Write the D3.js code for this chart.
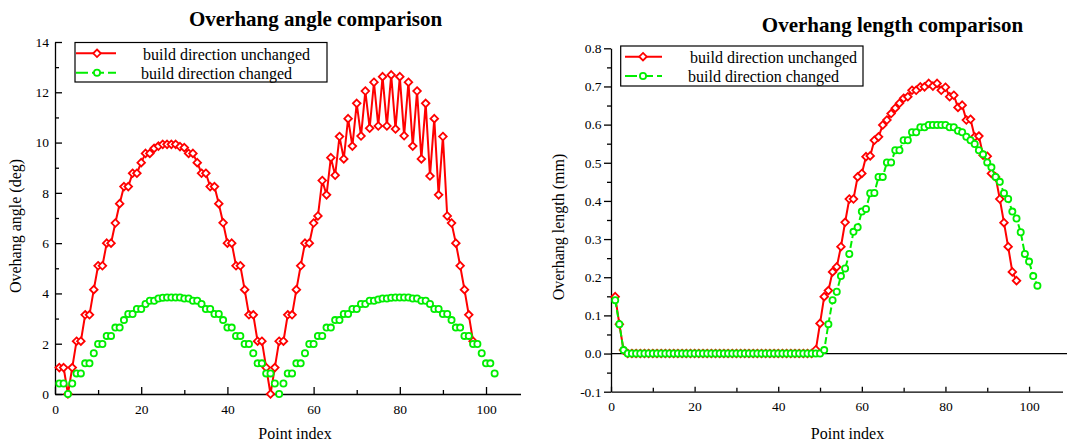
<!DOCTYPE html>
<html lang="en">
<head>
<meta charset="UTF-8">
<title>Overhang comparison</title>
<style>
    body { margin: 0; background: #fff; }
    svg text { font-family: "Liberation Serif", "Times New Roman", serif; fill: #000; }
    .title { font-size: 21px; font-weight: bold; }
    .axis-label { font-size: 16px; }
    .legend-text { font-size: 16px; }
    .axis text { font-size: 13.5px; font-family: "Liberation Serif", "Times New Roman", serif; }
    .axis path, .axis line { stroke: #000; stroke-width: 1.3; }
</style>
</head>
<body>
<svg id="chart" width="1067" height="443"></svg>

<script src="https://d3js.org/d3.v7.min.js"></script>
<script>
// ---- data (point index starts at 1) ----
var angleUnchanged = [1.05, 1.05, 0, 1.05, 2.1, 2.1, 3.15, 3.15, 4.15, 5.1, 5.1, 6.0, 6.0,
    6.8, 7.57, 8.25, 8.25, 8.78, 8.78, 9.2, 9.57, 9.57, 9.77, 9.86, 9.93, 9.93, 9.93, 9.93, 9.84, 9.8,
    9.57, 9.57, 9.2, 8.78, 8.78, 8.25, 8.25, 7.57, 6.81, 6.0, 6.0, 5.1, 5.1, 4.15, 3.15, 3.15, 2.1, 2.1, 1.05, 0,
    1.05, 2.1, 2.1, 3.15, 3.15, 4.15, 5.1, 6.0, 6.0, 6.8, 7.08, 8.49, 7.92, 9.4, 8.7, 10.24, 9.35, 10.95, 9.86, 11.56,
    10.26, 12.05, 10.57, 12.4, 10.66, 12.62, 10.66, 12.69, 10.54, 12.62, 10.27, 12.4, 9.86, 12.05, 9.35, 11.56, 8.67, 10.95, 7.92, 10.24,
    7.08, 6.8, 6.0, 5.1, 4.15, 3.15, 2.1];

var angleChanged = [0.42, 0.42, 0, 0.42, 0.82, 0.82, 1.22, 1.22, 1.62, 1.99, 1.99, 2.31, 2.31, 2.64, 2.64, 2.94,
    3.18, 3.18, 3.38, 3.38, 3.58, 3.71, 3.71, 3.8, 3.83, 3.84, 3.84, 3.84, 3.84, 3.8, 3.8, 3.71, 3.71, 3.58,
    3.38, 3.38, 3.18, 3.18, 2.94, 2.64, 2.64, 2.31, 2.31, 1.99, 1.99, 1.62, 1.22, 1.22, 0.82, 0.82, 0.42, 0,
    0.42, 0.82, 0.82, 1.22, 1.22, 1.62, 1.99, 1.99, 2.31, 2.31, 2.64, 2.64, 2.94, 2.94, 3.18, 3.18, 3.38, 3.38,
    3.58, 3.58, 3.71, 3.71, 3.76, 3.8, 3.8, 3.83, 3.84, 3.84, 3.84, 3.84, 3.8, 3.8, 3.71, 3.71, 3.58, 3.38, 3.38,
    3.18, 3.18, 2.94, 2.64, 2.64, 2.31, 2.31, 1.99, 1.99, 1.62, 1.22, 1.22, 0.82];

var lengthUnchanged = [0.149, 0.077, 0.009,
    0, 0, 0, 0, 0, 0, 0, 0, 0, 0, 0, 0, 0, 0, 0, 0, 0, 0, 0, 0, 0, 0, 0, 0, 0, 0, 0, 0, 0, 0,
    0, 0, 0, 0, 0, 0, 0, 0, 0, 0, 0, 0, 0, 0, 0,
    0.01, 0.079, 0.149, 0.165, 0.214, 0.227, 0.28, 0.344, 0.405, 0.405, 0.463, 0.472, 0.516, 0.518,
    0.559, 0.568, 0.599, 0.612, 0.629, 0.643, 0.656, 0.669, 0.673, 0.69, 0.69, 0.699, 0.699, 0.708,
    0.701, 0.708, 0.69, 0.698, 0.673, 0.677, 0.645, 0.651, 0.612, 0.614, 0.568, 0.57, 0.52, 0.517,
    0.472, 0.463, 0.405, 0.343, 0.28, 0.214, 0.191];

var lengthChanged = [0.14, 0.077, 0.009,
    0, 0, 0, 0, 0, 0, 0, 0, 0, 0, 0, 0, 0, 0, 0, 0, 0, 0, 0, 0, 0, 0, 0, 0, 0, 0, 0, 0, 0, 0,
    0, 0, 0, 0, 0, 0, 0, 0, 0, 0, 0, 0, 0, 0, 0, 0, 0,
    0.009, 0.077, 0.14, 0.162, 0.203, 0.223, 0.261, 0.319, 0.331, 0.372, 0.379, 0.42, 0.421, 0.463,
    0.463, 0.501, 0.501, 0.533, 0.533, 0.559, 0.559, 0.58, 0.58, 0.593, 0.593, 0.599, 0.599, 0.599,
    0.599, 0.599, 0.593, 0.593, 0.584, 0.58, 0.568, 0.559, 0.549, 0.533, 0.522, 0.501, 0.488, 0.463,
    0.45, 0.42, 0.405, 0.372, 0.354, 0.318, 0.261, 0.241, 0.203, 0.178];

var xTicks = [0, 20, 40, 60, 80, 100];
var xMinorTicks = [10, 30, 50, 70, 90];
var angleTicks = [0, 2, 4, 6, 8, 10, 12, 14];
var angleMinorTicks = [1, 3, 5, 7, 9, 11, 13];
var lengthTicks = [-0.1, 0, 0.1, 0.2, 0.3, 0.4, 0.5, 0.6, 0.7, 0.8];
var lengthMinorTicks = [-0.05, 0.05, 0.15, 0.25, 0.35, 0.45, 0.55, 0.65, 0.75];
var seriesNames = ['build direction unchanged', 'build direction changed'];

var red = '#ff0000';
var green = '#00ee00';

var svg = d3.select('#chart');

function toPoints(values) {
    return values.map(function (v, i) { return { i: i + 1, v: v }; });
}

// diamond marker (square turned 45 deg)
var diamond = 'M0,-3.8L3.8,0L0,3.8L-3.8,0Z';

function drawRed(g, x, y, values) {
    var pts = toPoints(values);
    var line = d3.line().x(d => x(d.i)).y(d => y(d.v));
    g.append('path').datum(pts)
        .attr('d', line).attr('fill', 'none')
        .attr('stroke', red).attr('stroke-width', 2);
    g.selectAll('.dia').data(pts).enter().append('path')
        .attr('class', 'dia')
        .attr('d', diamond)
        .attr('transform', d => `translate(${x(d.i)},${y(d.v)})`)
        .attr('fill', '#fff').attr('stroke', red).attr('stroke-width', 1.8);
}

function drawGreen(g, x, y, values, withLine) {
    var pts = toPoints(values);
    if (withLine) {
        var line = d3.line().x(d => x(d.i)).y(d => y(d.v));
        g.append('path').datum(pts)
            .attr('d', line).attr('fill', 'none')
            .attr('stroke', green).attr('stroke-width', 2)
            .attr('stroke-dasharray', '7,3');
    }
    g.selectAll('.circ').data(pts).enter().append('circle')
        .attr('class', 'circ')
        .attr('cx', d => x(d.i)).attr('cy', d => y(d.v)).attr('r', 3.1)
        .attr('fill', '#fff').attr('stroke', green).attr('stroke-width', 1.8);
}

function drawLegend(box, rows, lineX, markX, textX) {
    var lg = svg.append('g');
    lg.append('rect')
        .attr('x', box[0]).attr('y', box[1])
        .attr('width', box[2] - box[0]).attr('height', box[3] - box[1])
        .attr('fill', '#fff').attr('stroke', '#000').attr('stroke-width', 1.2);
    // row 0 : red
    lg.append('line').attr('x1', lineX[0]).attr('x2', lineX[1])
        .attr('y1', rows[0]).attr('y2', rows[0])
        .attr('stroke', red).attr('stroke-width', 2);
    lg.append('path').attr('d', diamond)
        .attr('transform', `translate(${markX},${rows[0]})`)
        .attr('fill', '#fff').attr('stroke', red).attr('stroke-width', 1.8);
    // row 1 : green
    lg.append('line').attr('x1', lineX[0]).attr('x2', lineX[1])
        .attr('y1', rows[1]).attr('y2', rows[1])
        .attr('stroke', green).attr('stroke-width', 2)
        .attr('stroke-dasharray', '12,4');
    lg.append('circle').attr('cx', markX).attr('cy', rows[1]).attr('r', 3.1)
        .attr('fill', '#fff').attr('stroke', green).attr('stroke-width', 1.8);
    lg.append('text').attr('class', 'legend-text')
        .attr('x', textX[0]).attr('y', rows[0] + 6.2).text(seriesNames[0]);
    lg.append('text').attr('class', 'legend-text')
        .attr('x', textX[1]).attr('y', rows[1] + 6.2).text(seriesNames[1]);
}

// ---------------- left panel : overhang angle ----------------
var xA = d3.scaleLinear().domain([0, 108]).range([55, 520.5]);
var yA = d3.scaleLinear().domain([0, 14]).range([394, 42]);

svg.append('g').attr('class', 'axis')
    .attr('transform', `translate(0,${yA(0)})`)
    .call(d3.axisBottom(xA).tickValues(xTicks).tickSizeInner(-7).tickSizeOuter(0).tickPadding(10));
svg.append('g').attr('class', 'axis')
    .attr('transform', `translate(0,${yA(0)})`)
    .call(d3.axisBottom(xA).tickValues(xMinorTicks).tickSize(-4).tickFormat(''))
    .select('.domain').remove();
svg.append('g').attr('class', 'axis')
    .attr('transform', `translate(${xA(0)},0)`)
    .call(d3.axisLeft(yA).tickValues(angleTicks).tickSizeInner(-7).tickSizeOuter(0).tickPadding(6));
svg.append('g').attr('class', 'axis')
    .attr('transform', `translate(${xA(0)},0)`)
    .call(d3.axisLeft(yA).tickValues(angleMinorTicks).tickSize(-4).tickFormat(''))
    .select('.domain').remove();

var gA = svg.append('g');
drawRed(gA, xA, yA, angleUnchanged);
drawGreen(gA, xA, yA, angleChanged, false);

svg.append('text').attr('class', 'title')
    .attr('x', 315.5).attr('y', 25.5).attr('text-anchor', 'middle')
    .text('Overhang angle comparison');
svg.append('text').attr('class', 'axis-label')
    .attr('x', 295).attr('y', 439).attr('text-anchor', 'middle')
    .text('Point index');
svg.append('text').attr('class', 'axis-label')
    .attr('transform', 'translate(21,226) rotate(-90)').attr('text-anchor', 'middle')
    .text('Ovehang angle (deg)');

drawLegend([75, 42.5, 327, 82], [53.3, 72.7], [76, 116], 97, [143, 141]);

// ---------------- right panel : overhang length ----------------
var xL = d3.scaleLinear().domain([0, 108]).range([611, 1062.5]);
var yL = d3.scaleLinear().domain([-0.1, 0.8]).range([391.7, 48.3]);

svg.append('g').attr('class', 'axis')
    .attr('transform', `translate(0,${yL(-0.1)})`)
    .call(d3.axisBottom(xL).tickValues(xTicks).tickSizeInner(-5).tickSizeOuter(0).tickPadding(10));
svg.append('g').attr('class', 'axis')
    .attr('transform', `translate(0,${yL(-0.1)})`)
    .call(d3.axisBottom(xL).tickValues(xMinorTicks).tickSize(-4).tickFormat(''))
    .select('.domain').remove();
svg.append('g').attr('class', 'axis')
    .attr('transform', `translate(${xL(0)},0)`)
    .call(d3.axisLeft(yL).tickValues(lengthTicks).tickSizeInner(7).tickSizeOuter(0).tickPadding(2.5)
        .tickFormat(d => d.toFixed(1)));
svg.append('g').attr('class', 'axis')
    .attr('transform', `translate(${xL(0)},0)`)
    .call(d3.axisLeft(yL).tickValues(lengthMinorTicks).tickSize(4).tickFormat(''))
    .select('.domain').remove();

// zero line
svg.append('line')
    .attr('x1', xL(0)).attr('x2', 1067)
    .attr('y1', yL(0)).attr('y2', yL(0))
    .attr('stroke', '#000').attr('stroke-width', 1.3);

var gL = svg.append('g');
drawRed(gL, xL, yL, lengthUnchanged);
drawGreen(gL, xL, yL, lengthChanged, true);

svg.append('text').attr('class', 'title')
    .attr('x', 892.5).attr('y', 31.7).attr('text-anchor', 'middle')
    .text('Overhang length comparison');
svg.append('text').attr('class', 'axis-label')
    .attr('x', 847.5).attr('y', 439).attr('text-anchor', 'middle')
    .text('Point index');
svg.append('text').attr('class', 'axis-label')
    .attr('transform', 'translate(564,227) rotate(-90)').attr('text-anchor', 'middle')
    .text('Overhang length (mm)');

drawLegend([620.7, 46, 863, 86], [56.7, 76], [625, 662], 643, [690, 688]);
</script>
</body>
</html>
